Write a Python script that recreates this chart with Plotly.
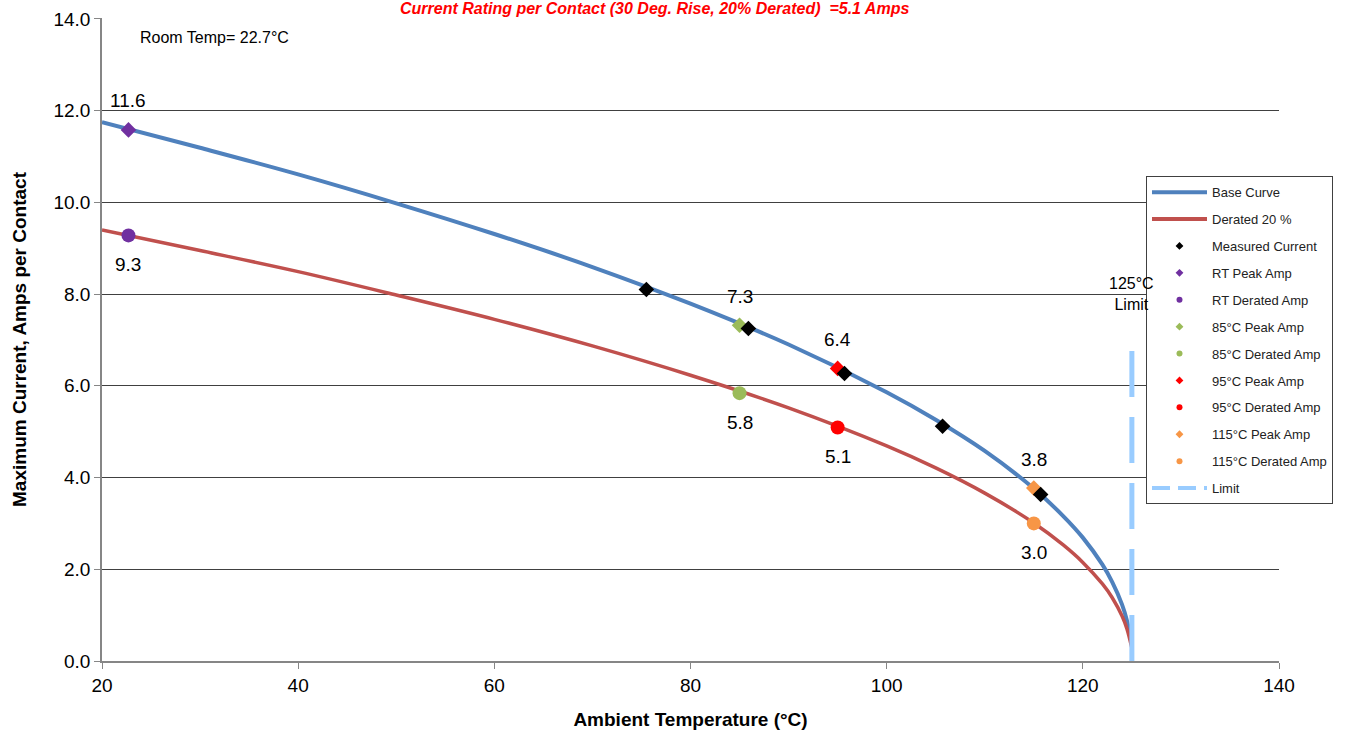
import plotly.graph_objects as go

# ---- data ----
curve_temp = [20, 30, 40, 50, 60, 70, 80, 90, 100, 105, 110, 115, 118, 120, 122, 123, 124, 124.5, 125]
base_curve = [11.75, 11.19, 10.61, 9.98, 9.31, 8.59, 7.79, 6.90, 5.86, 5.26, 4.58, 3.76, 3.16, 2.69, 2.10, 1.72, 1.23, 0.88, 0.35]
derated_curve = [9.40, 8.95, 8.49, 7.98, 7.45, 6.87, 6.23, 5.52, 4.69, 4.21, 3.66, 3.01, 2.53, 2.15, 1.68, 1.38, 0.98, 0.70, 0.28]

measured_temp = [75.5, 85.9, 95.7, 105.7, 115.7]
measured_current = [8.10, 7.25, 6.27, 5.12, 3.63]

point_names = ["RT", "85°C", "95°C", "115°C"]
point_temp = [22.7, 85, 95, 115]
peak_amp = [11.58, 7.32, 6.38, 3.77]
derated_amp = [9.28, 5.84, 5.09, 3.00]
point_colors = ["#7030A0", "#9BBB59", "#FF0000", "#F79646"]

limit_temp = [125, 125]
limit_amp = [0, 6.84]

x_ticks = [20, 40, 60, 80, 100, 120, 140]
y_ticks = [0, 2, 4, 6, 8, 10, 12, 14]

FONT = "Arial, Liberation Sans, sans-serif"
BLUE = "#4F81BD"
RED = "#C0504D"
LIMIT = "#99CCFF"

fig = go.Figure()

# curves
fig.add_trace(go.Scatter(x=curve_temp, y=base_curve, mode="lines", line=dict(color=BLUE, width=4, shape="spline"),
                         showlegend=False, hoverinfo="skip"))
fig.add_trace(go.Scatter(x=curve_temp, y=derated_curve, mode="lines", line=dict(color=RED, width=3.5, shape="spline"),
                         showlegend=False, hoverinfo="skip"))
# limit
fig.add_trace(go.Scatter(x=limit_temp, y=limit_amp, mode="lines", line=dict(color=LIMIT, width=5, dash="46px,20px"),
                         showlegend=False, hoverinfo="skip"))

# peak / derated points
for name, t, pk, dr, c in zip(point_names, point_temp, peak_amp, derated_amp, point_colors):
    fig.add_trace(go.Scatter(x=[t], y=[pk], mode="markers", marker=dict(symbol="diamond", size=12, color=c),
                             showlegend=False))
    fig.add_trace(go.Scatter(x=[t], y=[dr], mode="markers", marker=dict(symbol="circle", size=14, color=c),
                             showlegend=False))

# measured
fig.add_trace(go.Scatter(x=measured_temp, y=measured_current, mode="markers",
                         marker=dict(symbol="diamond", size=12, color="black"), showlegend=False))

# legend-only entries (small symbols like the reference legend)
def legend_entry(name, **kw):
    fig.add_trace(go.Scatter(x=[None], y=[None], name=name, legendgroup=name, **kw))

legend_entry("Base Curve", mode="lines", line=dict(color=BLUE, width=4))
legend_entry("Derated 20 %", mode="lines", line=dict(color=RED, width=4))
legend_entry("Measured Current", mode="markers", marker=dict(symbol="diamond", size=6, color="black"))
for name, c in zip(point_names, point_colors):
    legend_entry(f"{name} Peak Amp", mode="markers", marker=dict(symbol="diamond", size=6, color=c))
    legend_entry(f"{name} Derated Amp", mode="markers", marker=dict(symbol="circle", size=6, color=c))
legend_entry("Limit", mode="lines", line=dict(color=LIMIT, width=4, dash="18px,8px"))

annotations = []
# value labels
for t, pk, dr in zip(point_temp, peak_amp, derated_amp):
    annotations.append(dict(x=t, y=pk, text=f"{pk:.1f}", showarrow=False, yshift=29,
                            font=dict(size=19, color="black", family=FONT)))
    annotations.append(dict(x=t, y=dr, text=f"{dr:.1f}", showarrow=False, yshift=-29,
                            font=dict(size=19, color="black", family=FONT)))
annotations.append(dict(x=125, y=8.0, text="125°C<br>Limit", showarrow=False,
                        font=dict(size=16, color="black", family=FONT)))
annotations.append(dict(xref="paper", yref="paper", x=0.096, y=0.969, xanchor="center", yanchor="middle",
                        text="Room Temp= 22.7°C", showarrow=False,
                        font=dict(size=16, color="black", family=FONT)))
annotations.append(dict(xref="paper", yref="paper", x=0.469, y=1.029, xanchor="center", yanchor="top",
                        text="<b><i>Current Rating per Contact (30 Deg. Rise, 20% Derated)  =5.1 Amps</i></b>",
                        showarrow=False, borderpad=0, font=dict(size=16, color="#FF0000", family=FONT)))

fig.update_layout(
    width=1347, height=735,
    margin=dict(l=102, r=68, t=18, b=74, autoexpand=False),
    paper_bgcolor="white", plot_bgcolor="white",
    font=dict(family=FONT, color="black"),
    showlegend=True,
    legend=dict(x=0.887, y=0.754, xanchor="left", yanchor="top", bgcolor="white",
                bordercolor="#404040", borderwidth=1, font=dict(size=13, family=FONT, color="#222"),
                traceorder="grouped", tracegroupgap=7, itemwidth=55),
    annotations=annotations,
    xaxis=dict(range=[20, 140], tickvals=x_ticks, ticktext=[str(v) for v in x_ticks], automargin=False,
               showgrid=False, zeroline=False, showline=True, linecolor="#868686", linewidth=1.5,
               ticks="outside", ticklen=6, tickcolor="#868686", tickfont=dict(size=19, family=FONT, color="black"),
               ticklabeloverflow="allow",
               title=dict(text="<b>Ambient Temperature (°C)</b>", font=dict(size=19, family=FONT, color="black"),
                          standoff=18)),
    yaxis=dict(range=[0, 14.02], tickvals=y_ticks, ticktext=[f"{v:.1f}" for v in y_ticks], automargin=False,
               showgrid=True, gridcolor="#404040", gridwidth=1, zeroline=False,
               showline=True, linecolor="#868686", linewidth=1.5,
               ticks="outside", ticklen=6, tickcolor="#868686", tickfont=dict(size=19, family=FONT, color="black"),
               ticklabeloverflow="allow",
               title=dict(text="<b>Maximum Current, Amps per Contact</b>", font=dict(size=19, family=FONT, color="black"),
                          standoff=22)),
)

fig.write_html("out.html", config={"displayModeBar": False},
               post_script="document.body.style.margin='0';document.body.style.overflow='hidden';")
